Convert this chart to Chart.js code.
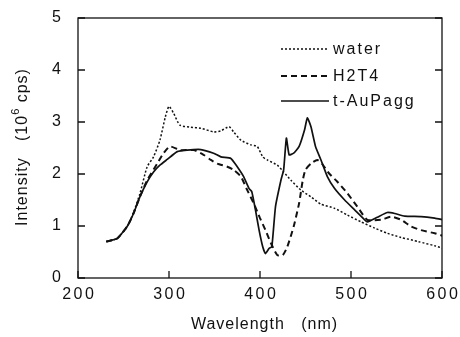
<!DOCTYPE html>
<html>
<head>
<meta charset="utf-8">
<script src="https://cdn.jsdelivr.net/npm/chart.js@4"></script>
<style>
  html, body { margin: 0; padding: 0; background: #fff; }
  #wrap { width: 460px; height: 337px; }
</style>
</head>
<body>
<div id="wrap"><canvas id="spectra" width="460" height="337"></canvas></div>
<script>
// wavelength (nm) and intensity (10^6 cps)
const waterX = [231, 243, 254, 261, 268, 276, 283, 290, 296, 300, 305, 312, 324, 335, 349, 357, 366, 371, 379, 390, 397, 403, 408, 419, 426, 434, 445, 456, 467, 482, 496, 511, 526, 540, 555, 574, 592, 601];
const waterY = [0.70, 0.76, 0.99, 1.26, 1.62, 2.14, 2.33, 2.65, 3.10, 3.30, 3.17, 2.94, 2.90, 2.88, 2.81, 2.83, 2.91, 2.81, 2.65, 2.56, 2.53, 2.33, 2.27, 2.17, 2.04, 1.88, 1.69, 1.56, 1.42, 1.34, 1.21, 1.08, 0.96, 0.86, 0.78, 0.70, 0.62, 0.57];

const h2t4X = [231, 243, 254, 261, 268, 276, 287, 294, 301, 312, 327, 338, 346, 353, 364, 371, 379, 386, 393, 400, 406, 412, 419, 425, 430, 437, 443, 447, 450, 456, 463, 468, 476, 485, 496, 507, 518, 533, 544, 555, 566, 577, 592, 601];
const h2t4Y = [0.70, 0.76, 0.99, 1.24, 1.56, 1.88, 2.20, 2.40, 2.53, 2.46, 2.46, 2.37, 2.27, 2.20, 2.14, 2.08, 1.95, 1.69, 1.44, 1.15, 0.92, 0.67, 0.44, 0.44, 0.60, 0.99, 1.44, 1.88, 2.08, 2.20, 2.27, 2.20, 2.01, 1.85, 1.63, 1.37, 1.12, 1.12, 1.18, 1.12, 0.99, 0.92, 0.86, 0.81];

const aupaggX = [231, 243, 254, 261, 268, 276, 283, 290, 298, 309, 320, 335, 349, 357, 368, 375, 382, 388, 391, 395, 399, 403, 406, 410, 413, 417, 423, 426, 429, 432, 437, 443, 449, 452, 456, 461, 467, 474, 482, 493, 504, 515, 518, 529, 540, 548, 559, 577, 592, 601];
const aupaggY = [0.70, 0.76, 0.99, 1.24, 1.56, 1.85, 2.04, 2.17, 2.28, 2.43, 2.46, 2.47, 2.40, 2.33, 2.30, 2.14, 1.95, 1.72, 1.66, 1.31, 0.92, 0.60, 0.47, 0.57, 0.60, 1.37, 1.88, 2.08, 2.69, 2.37, 2.40, 2.53, 2.85, 3.08, 2.91, 2.53, 2.27, 1.95, 1.72, 1.50, 1.31, 1.12, 1.08, 1.17, 1.26, 1.24, 1.19, 1.18, 1.15, 1.12];

const xTicks = [200, 300, 400, 500, 600];
const yTicks = [0, 1, 2, 3, 4, 5];
const seriesNames = ["water", "H2T4", "t-AuPagg"];

function pts(xs, ys) {
  return xs.map((x, i) => ({ x: x, y: ys[i] }));
}

const FONT = "Liberation Sans, Arial, Helvetica, sans-serif";

// text with letter spacing, trailing gap removed for alignment
function spaced(ctx, text, x, y, align, gap) {
  ctx.letterSpacing = gap + "px";
  const w = ctx.measureText(text).width - gap;
  let sx = x;
  if (align === "center") sx = x - w / 2;
  if (align === "right") sx = x - w;
  ctx.textAlign = "left";
  ctx.fillText(text, sx, y);
  ctx.letterSpacing = "0px";
  return w;
}

// frame, inward ticks, tick labels, legend and axis titles
const decorations = {
  id: "decorations",
  afterDraw(chart) {
    const ctx = chart.ctx;
    const a = chart.chartArea;
    const xs = chart.scales.x;
    const ys = chart.scales.y;
    ctx.save();
    ctx.strokeStyle = "#111";
    ctx.lineWidth = 1.3;
    ctx.setLineDash([]);
    ctx.strokeRect(a.left, a.top, a.right - a.left, a.bottom - a.top);

    ctx.beginPath();
    xTicks.forEach(v => {
      const px = xs.getPixelForValue(v);
      ctx.moveTo(px, a.bottom);
      ctx.lineTo(px, a.bottom - 7);
    });
    yTicks.forEach(v => {
      const py = ys.getPixelForValue(v);
      ctx.moveTo(a.left, py);
      ctx.lineTo(a.left + 7, py);
      ctx.moveTo(a.right, py);
      ctx.lineTo(a.right - 7, py);
    });
    ctx.stroke();

    ctx.fillStyle = "#111";
    ctx.textBaseline = "middle";
    ctx.font = "16px " + FONT;
    xTicks.forEach(v => {
      spaced(ctx, String(v), xs.getPixelForValue(v), a.bottom + 17, "center", 2.5);
    });
    yTicks.forEach(v => {
      spaced(ctx, String(v), a.left - 17, ys.getPixelForValue(v), "right", 2);
    });

    // legend
    const ds = chart.data.datasets;
    const rows = [49, 76, 101];
    ds.forEach((d, i) => {
      ctx.beginPath();
      ctx.setLineDash(d.borderDash || []);
      ctx.lineWidth = d.borderWidth;
      ctx.strokeStyle = d.borderColor;
      ctx.moveTo(281, rows[i]);
      ctx.lineTo(329, rows[i]);
      ctx.stroke();
      ctx.setLineDash([]);
      ctx.font = "16px " + FONT;
      spaced(ctx, d.label, 333, rows[i] + 1, "left", 2);
    });

    // x title
    ctx.font = "16px " + FONT;
    spaced(ctx, "Wavelength   (nm)", 264, 325, "center", 1);

    // y title with superscript
    ctx.translate(23, 147);
    ctx.rotate(-Math.PI / 2);
    ctx.letterSpacing = "1px";
    const p1 = "Intensity   (10";
    const p2 = "6";
    const p3 = " cps)";
    ctx.font = "16px " + FONT;
    const w1 = ctx.measureText(p1).width;
    ctx.font = "11px " + FONT;
    const w2 = ctx.measureText(p2).width;
    ctx.font = "16px " + FONT;
    const w3 = ctx.measureText(p3).width;
    const x0 = -(w1 + w2 + w3) / 2;
    ctx.textAlign = "left";
    ctx.fillText(p1, x0, 0);
    ctx.font = "11px " + FONT;
    ctx.fillText(p2, x0 + w1, -7);
    ctx.font = "16px " + FONT;
    ctx.fillText(p3, x0 + w1 + w2, 0);
    ctx.restore();
  }
};

const chart = new Chart(document.getElementById("spectra").getContext("2d"), {
  type: "line",
  data: {
    datasets: [
      {
        label: seriesNames[0],
        data: pts(waterX, waterY),
        borderColor: "#111",
        borderWidth: 1.5,
        borderDash: [2, 2],
        pointRadius: 0,
        tension: 0.2
      },
      {
        label: seriesNames[1],
        data: pts(h2t4X, h2t4Y),
        borderColor: "#111",
        borderWidth: 2,
        borderDash: [6, 4],
        pointRadius: 0,
        tension: 0.2
      },
      {
        label: seriesNames[2],
        data: pts(aupaggX, aupaggY),
        borderColor: "#111",
        borderWidth: 1.7,
        pointRadius: 0,
        tension: 0.15
      }
    ]
  },
  options: {
    responsive: false,
    animation: false,
    layout: { padding: { left: 0, top: 18, right: 18, bottom: 0 } },
    plugins: { legend: { display: false }, tooltip: { enabled: false } },
    scales: {
      x: {
        type: "linear",
        min: 200,
        max: 600,
        afterBuildTicks: s => { s.ticks = xTicks.map(v => ({ value: v })); },
        afterFit: s => { s.height = 59; },
        grid: { display: false },
        border: { display: false },
        ticks: { display: false }
      },
      y: {
        min: 0,
        max: 5,
        afterBuildTicks: s => { s.ticks = yTicks.map(v => ({ value: v })); },
        afterFit: s => { s.width = 78; },
        grid: { display: false },
        border: { display: false },
        ticks: { display: false }
      }
    }
  },
  plugins: [decorations]
});
</script>
</body>
</html>
